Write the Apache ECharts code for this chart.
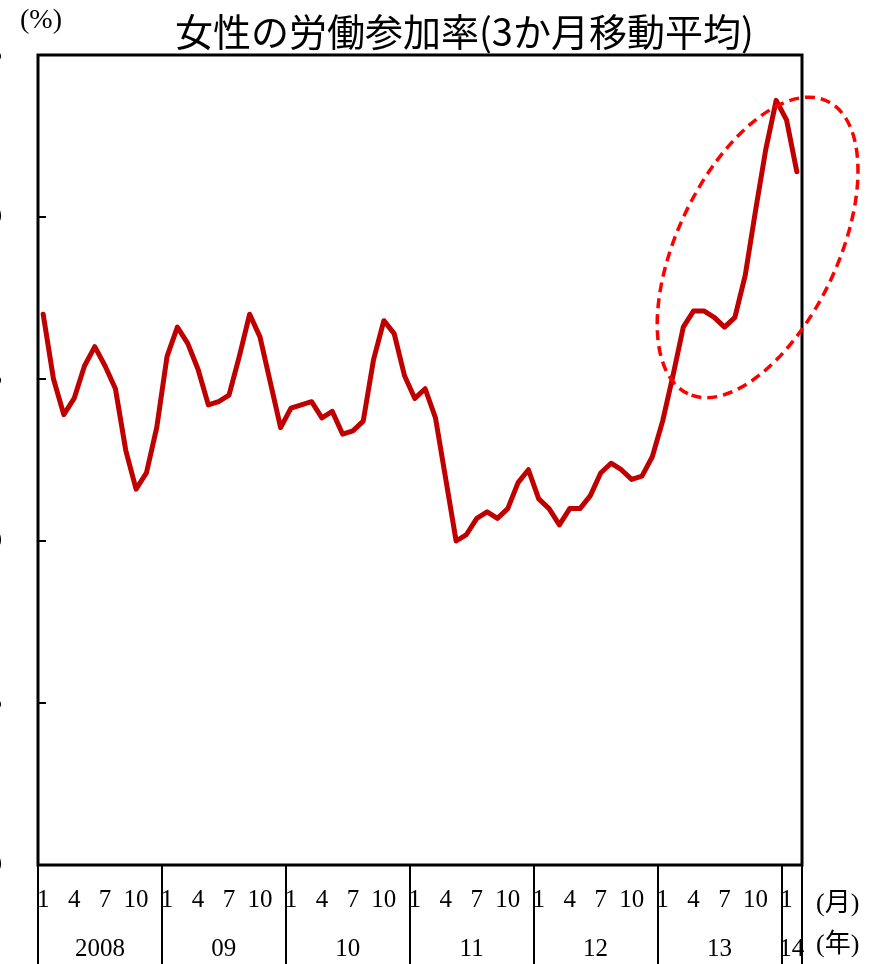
<!DOCTYPE html>
<html>
<head>
<meta charset="utf-8">
<script src="https://cdn.jsdelivr.net/npm/echarts@6/dist/echarts.min.js"></script>
<style>
  html, body { margin: 0; padding: 0; background: #fff; }
  #main { width: 876px; height: 964px; }
</style>
</head>
<body>
<div id="main"></div>
<script>
// 年ラベルと各年の月数（2014年は2月まで）
var years = ['2008', '09', '10', '11', '12', '13', '14'];
var monthsPerYear = [12, 12, 12, 12, 12, 12, 2];
// y軸目盛
var yMin = 47.0, yMax = 49.5, yStep = 0.5;

// 女性の労働参加率（3か月移動平均, %）
var rate = [
  48.70, 48.50, 48.39, 48.44, 48.54, 48.60, 48.54, 48.47, 48.28, 48.16, 48.21, 48.35,
  48.57, 48.66, 48.61, 48.53, 48.42, 48.43, 48.45, 48.57, 48.70, 48.63, 48.49, 48.35,
  48.41, 48.42, 48.43, 48.38, 48.40, 48.33, 48.34, 48.37, 48.56, 48.68, 48.64, 48.51,
  48.44, 48.47, 48.38, 48.19, 48.00, 48.02, 48.07, 48.09, 48.07, 48.10, 48.18, 48.22,
  48.13, 48.10, 48.05, 48.10, 48.10, 48.14, 48.21, 48.24, 48.22, 48.19, 48.20, 48.26,
  48.37, 48.51, 48.66, 48.71, 48.71, 48.69, 48.66, 48.69, 48.82, 49.02, 49.21, 49.36,
  49.30, 49.14
];

// 月カテゴリ、年の区切り・中央位置
var months = [];
var yearBounds = [0];
var yearCenters = [];
for (var i = 0; i < years.length; i++) {
  var start = yearBounds[yearBounds.length - 1];
  for (var m = 1; m <= monthsPerYear[i]; m++) months.push(String(m));
  yearCenters.push(start + monthsPerYear[i] / 2);
  yearBounds.push(start + monthsPerYear[i]);
}

var serif = "'Liberation Serif', 'DejaVu Serif', 'Noto Sans CJK JP', serif";
var unitFont = "26px 'Liberation Serif', 'Noto Sans CJK JP', serif";
var myChart = echarts.init(document.getElementById('main'));

function unitLabels() {
  return [
    { type: 'text', left: 816, top: 891, style: { text: '(月)', font: unitFont, fill: '#000' } },
    { type: 'text', left: 816, top: 932, style: { text: '(年)', font: unitFont, fill: '#000' } }
  ];
}

myChart.setOption({
  animation: false,
  title: {
    text: '女性の労働参加率(3か月移動平均)',
    left: 170,
    top: 8,
    textStyle: {
      fontFamily: "'Noto Sans CJK JP', sans-serif",
      fontWeight: 'normal',
      fontSize: 38,
      color: '#000'
    }
  },
  grid: {
    left: 38,
    right: 74,
    top: 55,
    bottom: 99,
    outerBoundsMode: 'none',
    containLabel: false,
    show: true,
    borderColor: '#000',
    borderWidth: 3,
    backgroundColor: '#fff'
  },
  xAxis: [
    {
      type: 'category',
      data: months,
      boundaryGap: true,
      position: 'bottom',
      axisLine: { show: false },
      axisTick: { show: false },
      axisLabel: {
        interval: function (index) { return index % 3 === 0; },
        margin: 23,
        fontFamily: serif,
        fontSize: 25,
        color: '#000'
      },
      splitLine: { show: false }
    },
    {
      type: 'value',
      min: 0,
      max: months.length,
      position: 'bottom',
      axisLine: { show: false },
      axisTick: {
        show: true,
        customValues: yearBounds,
        length: 110,
        lineStyle: { color: '#000', width: 2 }
      },
      axisLabel: {
        customValues: yearCenters,
        margin: 72,
        fontFamily: serif,
        fontSize: 25,
        color: '#000',
        formatter: function (v) {
          var k = yearCenters.indexOf(v);
          return k >= 0 ? years[k] : '';
        }
      },
      splitLine: { show: false }
    }
  ],
  yAxis: {
    type: 'value',
    min: yMin,
    max: yMax,
    interval: yStep,
    name: '(%)',
    nameLocation: 'end',
    nameGap: 20,
    nameTextStyle: {
      fontFamily: serif,
      fontSize: 28,
      color: '#000',
      padding: [0, 0, 0, 6]
    },
    axisLine: { show: false },
    axisTick: {
      show: true,
      inside: true,
      length: 8,
      lineStyle: { color: '#000', width: 2 }
    },
    axisLabel: {
      margin: 36,
      fontFamily: serif,
      fontSize: 24,
      color: '#000',
      formatter: function (v) { return v.toFixed(1); }
    },
    splitLine: { show: false }
  },
  series: [
    {
      name: '女性の労働参加率',
      type: 'line',
      xAxisIndex: 0,
      data: rate,
      showSymbol: false,
      lineStyle: { color: '#C00000', width: 5, join: 'round', cap: 'round' },
      itemStyle: { color: '#C00000' },
      z: 3
    }
  ],
  graphic: unitLabels()
});

// 2013年以降の上昇部分を囲む点線の楕円
var c = myChart.convertToPixel({ xAxisIndex: 1, yAxisIndex: 0 }, [69.7, 48.906]);
myChart.setOption({
  graphic: unitLabels().concat([
    {
      type: 'ellipse',
      x: c[0],
      y: c[1],
      rotation: 64.5 * Math.PI / 180,
      shape: { cx: 0, cy: 0, rx: 162, ry: 80 },
      style: { fill: 'none', stroke: '#FF0000', lineWidth: 3.5, lineDash: [10, 6] },
      z: 10
    }
  ])
}, { replaceMerge: ['graphic'] });
</script>
</body>
</html>
